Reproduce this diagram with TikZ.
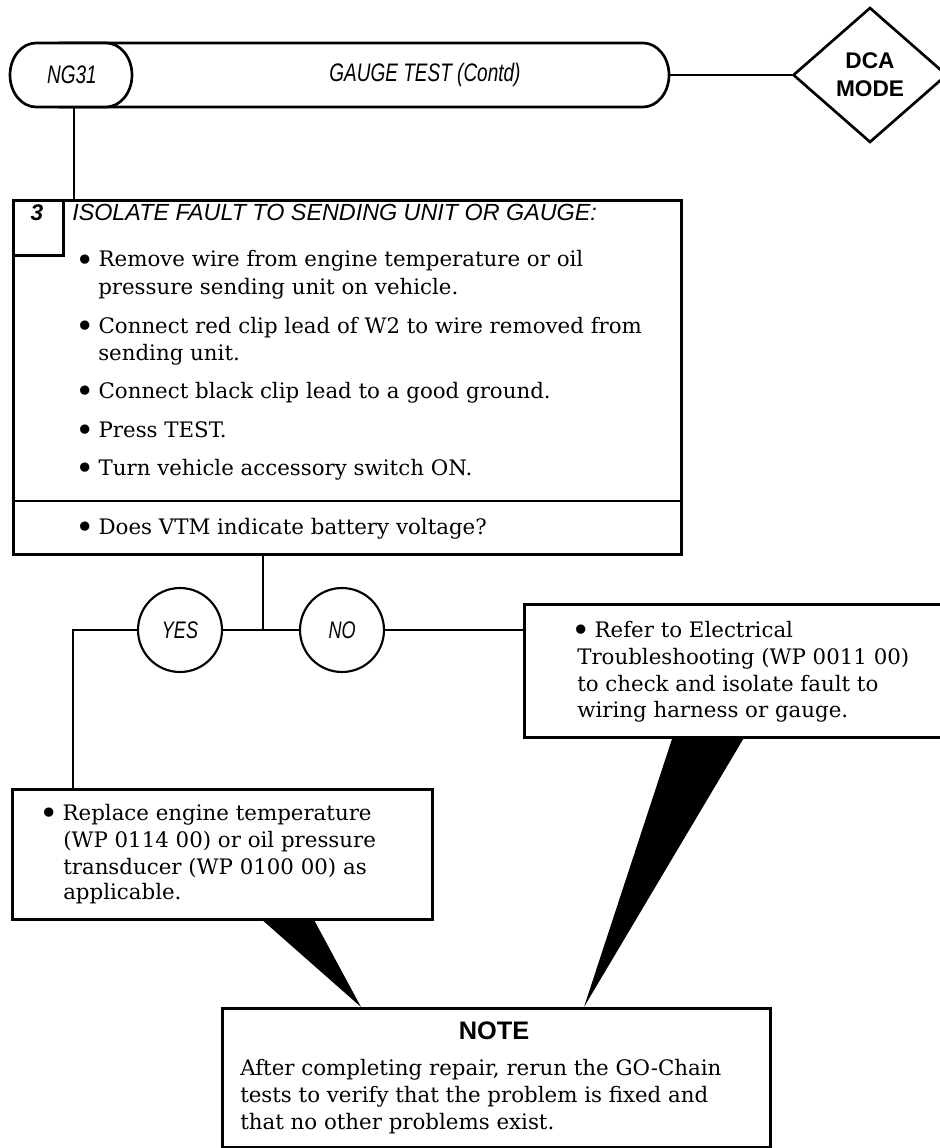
\documentclass[tikz,border=0pt]{standalone}
\usepackage{fontspec}
\newfontfamily\hsans{Liberation Sans}
\newfontfamily\hcond[FakeStretch=0.75]{Liberation Sans}
\newfontfamily\bodyserif{DejaVu Serif}
\usetikzlibrary{shapes.geometric}
\newcommand\bul{\makebox[17.5pt][l]{\raisebox{-3pt}{\fontsize{24}{24}\selectfont\textbullet}}}
\begin{document}
\begin{tikzpicture}[x=0.75pt,y=-0.75pt,
  box/.style={draw, line width=2pt, fill=white, inner sep=0pt, anchor=north west},
  conn/.style={line width=1.6pt},
  txt/.style={font=\bodyserif\fontsize{16}{20}\selectfont, inner sep=0pt, anchor=base west},
  head/.style={font=\hsans\itshape\fontsize{17.5}{20}\selectfont, inner sep=0pt},
  cond/.style={font=\hcond\itshape\fontsize{19}{22}\selectfont, inner sep=0pt},
  ans/.style={draw, circle, line width=1.6pt, minimum size=63pt, inner sep=0pt, fill=white, font=\hcond\itshape\fontsize{18}{20}\selectfont},
  dcabox/.style={draw, diamond, line width=2pt, fill=white, minimum width={154*0.75pt}, minimum height={135*0.75pt}, inner sep=0pt, align=center, font=\hsans\bfseries\fontsize{17}{21}\selectfont},
  wedge/.style={fill=black}
]
\useasboundingbox (0,0) rectangle (939,1148);

% wedges (under boxes)
\fill[wedge] (260,918) -- (313,918) -- (361,1007) -- cycle;
\fill[wedge] (673,736) -- (745,736) -- (584,1007) -- cycle;

% header
\draw[line width=2pt, fill=white] (60,43) -- (643,43) arc[start angle=90, end angle=-90, x radius=19.5pt, y radius=24pt] -- (60,107) -- cycle;
\draw[line width=2pt, fill=white] (36,43) -- (106,43) arc[start angle=90, end angle=-90, x radius=19.5pt, y radius=24pt] -- (36,107) arc[start angle=270, end angle=90, x radius=19.5pt, y radius=24pt] -- cycle;
\node[cond] (ng) at (72,75) {NG31};
\node[cond] (title) at (425,75) {GAUGE TEST (Contd)};
\node[dcabox] (dca) at (870,75) {DCA\\MODE};
\coordinate (pillr) at (669,75);
\coordinate (ngb) at (74,107);

% boxes
\node[box, minimum width={668*0.75pt}, minimum height={354*0.75pt}] (b3) at (12,199) {};
\draw[line width=2pt] (12,501) -- (680,501);
\node[box, minimum width={50*0.75pt}, minimum height={55*0.75pt}] (nb) at (12,199) {};
\node[head, font=\hsans\bfseries\itshape\fontsize{17}{20}\selectfont, anchor=base] (n3) at (37,221) {3};
\node[box, minimum width={420*0.75pt}, minimum height={130*0.75pt}] (lb) at (11,788) {};
\node[box, minimum width={440*0.75pt}, minimum height={133*0.75pt}] (rb) at (523,603) {};
\node[box, minimum width={548*0.75pt}, minimum height={139*0.75pt}] (note) at (221,1007) {};

% answers
\node[ans] (yes) at (180,630) {YES};
\node[ans] (no) at (342,630) {NO};
\coordinate (j) at (263,630);
\coordinate (lc) at (73,630);

% connectors
\draw[conn] (pillr) -- (dca.west);
\draw[conn] (ngb) -- (ngb |- b3.north);
\draw[conn] (b3.south -| j) -- (j);
\draw[conn] (yes.east) -- (j) -- (no.west);
\draw[conn] (no.east) -- (no.east -| rb.west);
\draw[conn] (yes.west) -- (lc) -- (lc |- lb.north);

% box 3 text
\node[head, anchor=base west] (h3) at (72,220) {ISOLATE FAULT TO SENDING UNIT OR GAUGE:};
\node[txt] (t1) at (75,267) {\bul Remove wire from engine temperature or oil};
\node[txt] (t1b) at (98,294) {pressure sending unit on vehicle.};
\node[txt] (t2) at (75,333) {\bul Connect red clip lead of W2 to wire removed from};
\node[txt] (t2b) at (98,360) {sending unit.};
\node[txt] (t3) at (75,398) {\bul Connect black clip lead to a good ground.};
\node[txt] (t4) at (75,437) {\bul Press TEST.};
\node[txt] (t5) at (75,475) {\bul Turn vehicle accessory switch ON.};
\node[txt] (t6) at (75,534) {\bul Does VTM indicate battery voltage?};

% right box text
\node[txt] (r1) at (571,637) {\bul Refer to Electrical};
\node[txt] (r2) at (577,664) {Troubleshooting (WP 0011 00)};
\node[txt] (r3) at (577,691) {to check and isolate fault to};
\node[txt] (r4) at (577,717) {wiring harness or gauge.};

% left box text
\node[txt] (l1) at (39,820) {\bul Replace engine temperature};
\node[txt] (l2) at (63,847) {(WP 0114 00) or oil pressure};
\node[txt] (l3) at (63,874) {transducer (WP 0100 00) as};
\node[txt] (l4) at (63,899) {applicable.};

% note text
\node[font=\hsans\bfseries\fontsize{19}{22}\selectfont, inner sep=0pt, anchor=base] (notehead) at (494,1039) {NOTE};
\node[txt] (nt1) at (240,1075) {After completing repair, rerun the GO-Chain};
\node[txt] (nt2) at (240,1102) {tests to verify that the problem is fixed and};
\node[txt] (nt3) at (240,1129) {that no other problems exist.};
\end{tikzpicture}
\end{document}
